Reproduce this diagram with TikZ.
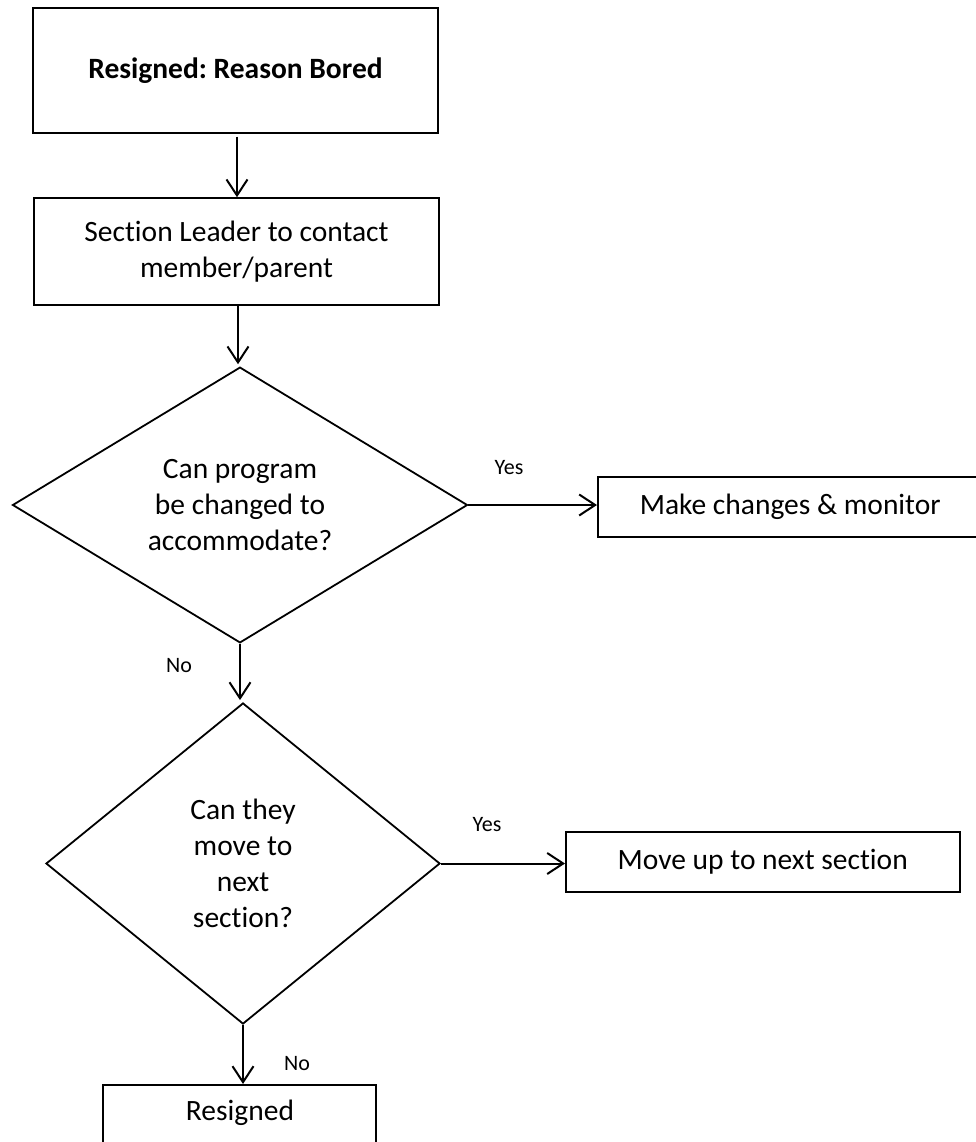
\documentclass[tikz,border=0pt]{standalone}
\usepackage{fontspec}
\setmainfont{Carlito}[Ligatures=NoCommon]
\frenchspacing
\usetikzlibrary{shapes.geometric,arrows.meta}
\tikzset{
  box/.style={draw=black, line width=1.5pt, rectangle, inner sep=0pt, align=center,
    font=\fontsize{29.5}{36}\selectfont},
  decision/.style={draw=black, line width=1.8pt, diamond, inner sep=0pt, align=center,
    font=\fontsize{29.5}{36}\selectfont},
  flow/.style={line width=2pt, -{Straight Barb[length=16pt,width=21pt,line width=2pt]}},
  lbl/.style={font=\fontsize{22}{24}\selectfont, inner sep=0pt}
}
\begin{document}
\begin{tikzpicture}[x=1pt,y=-1pt]
\useasboundingbox (0,0) rectangle (976,1142);
\node[box, minimum width=405pt, minimum height=125pt, font=\fontsize{29.5}{36}\selectfont\bfseries] (b1) at (235.5,70.5) {Resigned: Reason Bored};
\node[box, minimum width=405pt, minimum height=107pt] (b2) at (236.5,251.5) {Section Leader to contact\\member/parent};
\node[decision, minimum width=455pt, minimum height=268pt] (d1) at (240,505) {Can program\\be changed to\\accommodate?};
\node[box, minimum width=385pt, minimum height=60pt, anchor=west] (b3) at (597,507) {Make changes \& monitor};
\node[decision, minimum width=394pt, minimum height=321pt] (d2) at (243,863.5) {Can they\\move to\\next\\section?};
\node[box, minimum width=394pt, minimum height=60pt, anchor=west] (b4) at (565,862) {Move up to next section};
\node[box, minimum width=273pt, minimum height=120pt, anchor=north] (b5) at (239.5,1084) {};
\node[font=\fontsize{29.5}{36}\selectfont, inner sep=0pt] (t5) at (240,1113) {Resigned};
\node[lbl] (y1) at (509,468) {Yes};
\node[lbl] (y2) at (487,825) {Yes};
\node[lbl] (n1) at (179,666) {No};
\node[lbl] (n2) at (297,1064) {No};
\coordinate (a1) at ([xshift=1.5pt,yshift=-3pt]b1.south);
\draw[flow] (a1) -- (a1 |- b2.north);
\coordinate (a2) at ([xshift=1.5pt]b2.south);
\draw[flow] (a2) -- ([yshift=2pt]a2 |- d1.north);
\draw[flow] (d1.east) -- (d1.east -| b3.west);
\draw[flow] (d1.south) -- ([yshift=2pt]d1.south |- d2.north);
\draw[flow] (d2.east) -- (d2.east -| b4.west);
\draw[flow] (d2.south) -- (d2.south |- b5.north);
\end{tikzpicture}
\end{document}
